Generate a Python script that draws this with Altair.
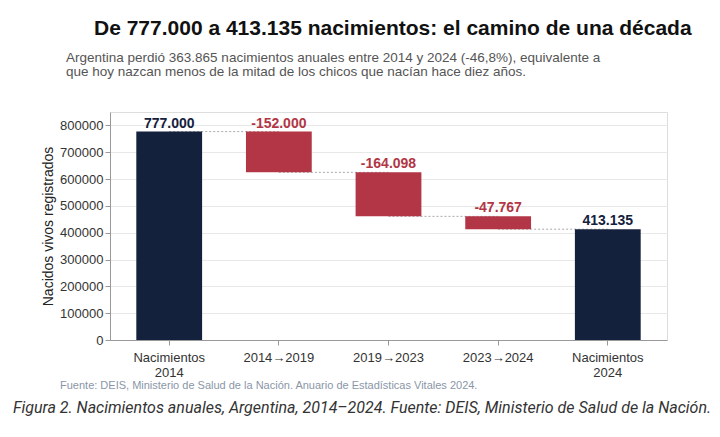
import pandas as pd
import altair as alt

categories = ["Nacimientos\n2014", "2014→2019", "2019→2023", "2023→2024", "Nacimientos\n2024"]
starts = [0, 777000, 625000, 460902, 0]
ends = [777000, 625000, 460902, 413135, 413135]
labels = ["777.000", "-152.000", "-164.098", "-47.767", "413.135"]
kinds = ["total", "delta", "delta", "delta", "total"]

NAVY = "#14213d"
RED = "#b23645"
FONT = "Liberation Sans"

df = pd.DataFrame({"cat": categories, "start": starts, "end": ends,
                   "label": labels, "kind": kinds})
df["top"] = df[["start", "end"]].max(axis=1)

conn = pd.DataFrame({"cat": categories[:-1], "next": categories[1:], "level": ends[:-1]})

xs = alt.X("cat:N", sort=categories, title=None,
           scale=alt.Scale(paddingInner=0.4, paddingOuter=0.24),
           axis=alt.Axis(labelAngle=0, labelExpr="split(datum.label, '\\n')",
                         labelFontSize=13, labelColor="#333", domainColor="#999",
                         tickColor="#999", labelPadding=6))
ys = alt.Scale(domain=[0, 850000], nice=False)
color = alt.Color("kind:N", scale=alt.Scale(domain=["total", "delta"], range=[NAVY, RED]), legend=None)

base = alt.Chart(df)
rules = alt.Chart(conn).mark_rule(strokeDash=[2, 2], color="#aaa").encode(
    x=xs, x2="next:N", y=alt.Y("level:Q", scale=ys))
bars = base.mark_bar().encode(
    x=xs,
    y=alt.Y("start:Q", scale=ys, title="Nacidos vivos registrados",
            axis=alt.Axis(format="d", tickCount=9, gridColor="#e8e8e8", labelFontSize=13,
                          labelColor="#333", titleFontSize=14, titleFontWeight="normal",
                          titleColor="#222", domainColor="#999", tickColor="#999")),
    y2="end:Q", color=color)
texts = base.mark_text(dy=-8, fontSize=14, fontWeight="bold").encode(
    x=xs, y=alt.Y("top:Q", scale=ys), text="label:N", color=color)

one = pd.DataFrame({"a": [0]})
def note(txt, x, y, **kw):
    return alt.Chart(one).mark_text(text=txt, **kw).encode(x=alt.value(x), y=alt.value(y))

title = note("De 777.000 a 413.135 nacimientos: el camino de una década", -16, -83,
             align="left", fontSize=21, fontWeight="bold", color="#111")
sub1 = note("Argentina perdió 363.865 nacimientos anuales entre 2014 y 2024 (-46,8%), equivalente a",
            -44, -54, align="left", fontSize=13.5, color="#555")
sub2 = note("que hoy nazcan menos de la mitad de los chicos que nacían hace diez años.",
            -44, -40, align="left", fontSize=13.5, color="#555")
src = note("Fuente: DEIS, Ministerio de Salud de la Nación. Anuario de Estadísticas Vitales 2024.",
           -50, 274, align="left", fontSize=11, color="#8a96a8")
cap = note("Figura 2. Nacimientos anuales, Argentina, 2014–2024. Fuente: DEIS, Ministerio de Salud de la Nación.",
           252, 296, align="center", fontSize=16, fontStyle="italic", color="#333",
           font="Roboto")

chart = alt.layer(rules, bars, texts, title, sub1, sub2, src, cap).properties(
    width=557, height=228, autosize=alt.AutoSizeParams(type="none"),
    padding={"left": 102, "top": 104, "right": 45, "bottom": 89}
).configure_view(stroke=None).configure(font=FONT)

chart.save("out.html", embed_options={"renderer": "svg", "actions": False})
